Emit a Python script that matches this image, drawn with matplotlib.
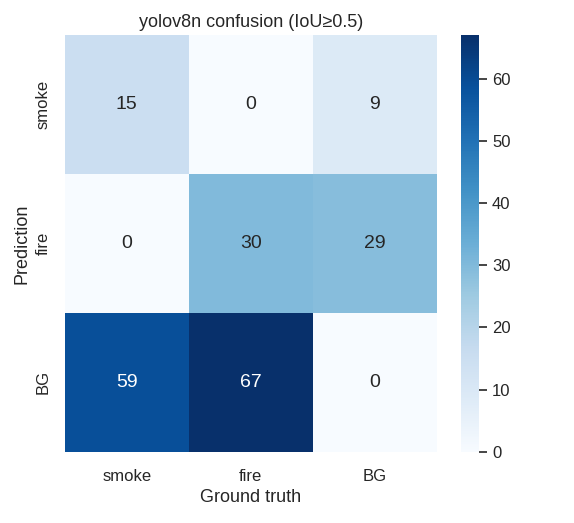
import numpy as np
import matplotlib
matplotlib.use("Agg")
import matplotlib.pyplot as plt
import seaborn as sns

# confusion matrix values (rows = prediction, cols = ground truth)
classes = ["smoke", "fire", "BG"]
row_smoke = [15, 0, 9]
row_fire = [0, 30, 29]
row_bg = [59, 67, 0]

mat = np.array([row_smoke, row_fire, row_bg])

sns.set_theme(style="white")
plt.rcParams['font.family'] = ['Liberation Sans', 'DejaVu Sans']

fig = plt.figure(figsize=(5.74, 5.23), dpi=100)
ax = fig.add_axes([0.113, 0.136, 0.648, 0.797])
cax = fig.add_axes([0.803, 0.136, 0.031, 0.797])

sns.heatmap(mat, annot=True, fmt="d", cmap="Blues", ax=ax, cbar_ax=cax,
            xticklabels=classes, yticklabels=classes,
            annot_kws={"fontsize": 14})

ax.set_xlabel("Ground truth", fontsize=13)
ax.set_ylabel("Prediction", fontsize=13)
ax.set_title("yolov8n confusion (IoU≥0.5)", fontsize=13)
ax.tick_params(axis="x", labelsize=12, length=0, pad=12)
ax.tick_params(axis="y", labelsize=12, length=0, pad=10)

cax.tick_params(right=True, length=6, width=1.2, color="#262626", labelsize=12)
for s in cax.spines.values():
    s.set_visible(False)

fig.savefig("out.png", dpi=100)
